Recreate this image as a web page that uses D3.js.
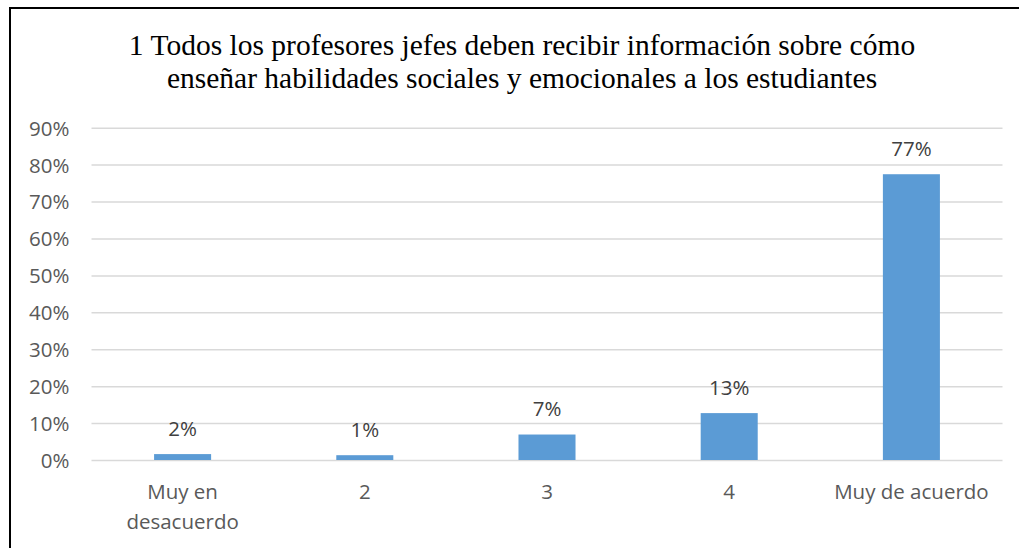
<!DOCTYPE html>
<html>
<head>
<meta charset="utf-8">
<script src="https://cdn.jsdelivr.net/npm/d3@7"></script>
<style>
  html, body { margin: 0; padding: 0; background: #ffffff; }
  svg { display: block; }
</style>
</head>
<body>
<svg id="chart" width="1019" height="548"></svg>
<script>
// Survey responses for statement 1 (share of respondents per answer)
const categories = [["Muy en", "desacuerdo"], ["2"], ["3"], ["4"], ["Muy de acuerdo"]];
const values = [0.016, 0.013, 0.069, 0.127, 0.774];
const yTicks = [0, 0.1, 0.2, 0.3, 0.4, 0.5, 0.6, 0.7, 0.8, 0.9];
const titleLines = [
  "1 Todos los profesores jefes deben recibir información sobre cómo",
  "enseñar habilidades sociales y emocionales a los estudiantes"
];

const svg = d3.select("#chart");
const W = 1019, H = 548;
const plot = { left: 91.5, right: 1002.5, top: 127.7, bottom: 460 };
const sansFont = "'Open Sans', 'Liberation Sans', sans-serif";
const labelSize = 20.5;

// frame around the figure (top and left edges visible)
svg.append("line").attr("x1", 10).attr("x2", W).attr("y1", 8).attr("y2", 8)
  .attr("stroke", "#000").attr("stroke-width", 2);
svg.append("line").attr("x1", 10).attr("x2", 10).attr("y1", 7).attr("y2", H)
  .attr("stroke", "#000").attr("stroke-width", 2);

const keys = categories.map((c, i) => i);
const x = d3.scaleBand().domain(keys).range([plot.left, plot.right]).paddingInner(0.687).paddingOuter(0.3435);
const y = d3.scaleLinear().domain([0, 0.9]).range([plot.bottom, plot.top]);

// title
svg.append("g").selectAll("text").data(titleLines).join("text")
  .attr("x", 522).attr("y", (d, i) => 55 + i * 33)
  .attr("text-anchor", "middle")
  .attr("font-family", "'Liberation Serif', 'Times New Roman', serif")
  .attr("font-size", 29.5)
  .attr("fill", "#000")
  .text(d => d);

// horizontal gridlines and y axis labels
const yAxis = d3.axisLeft(y).tickValues(yTicks).tickFormat(d3.format(".0%"))
  .tickSize(-(plot.right - plot.left)).tickPadding(22);
const gy = svg.append("g").attr("transform", `translate(${plot.left},0)`).call(yAxis);
gy.select(".domain").remove();
gy.selectAll(".tick line").attr("stroke", "#d9d9d9").attr("stroke-width", 1.5);
gy.selectAll(".tick text").attr("font-family", sansFont).attr("font-size", labelSize)
  .attr("fill", "#595959").attr("dy", "0.36em");

// bars
svg.append("g").selectAll("rect").data(values).join("rect")
  .attr("x", (d, i) => x(i))
  .attr("width", x.bandwidth())
  .attr("y", d => y(d))
  .attr("height", d => y(0) - y(d))
  .attr("fill", "#5b9bd5");

// value labels above bars
svg.append("g").selectAll("text").data(values).join("text")
  .attr("x", (d, i) => x(i) + x.bandwidth() / 2)
  .attr("y", d => y(d) - 18.5)
  .attr("text-anchor", "middle")
  .attr("font-family", sansFont).attr("font-size", labelSize)
  .attr("fill", "#404040")
  .text(d => d3.format(".0%")(d));

// category labels
const gx = svg.append("g").selectAll("text").data(categories).join("text")
  .attr("x", (d, i) => x(i) + x.bandwidth() / 2)
  .attr("y", 499)
  .attr("text-anchor", "middle")
  .attr("font-family", sansFont).attr("font-size", labelSize)
  .attr("fill", "#595959");
gx.each(function(lines, i) {
  d3.select(this).selectAll("tspan").data(lines).join("tspan")
    .attr("x", x(i) + x.bandwidth() / 2)
    .attr("dy", (d, j) => j === 0 ? 0 : 29.5)
    .text(d => d);
});
</script>
</body>
</html>
